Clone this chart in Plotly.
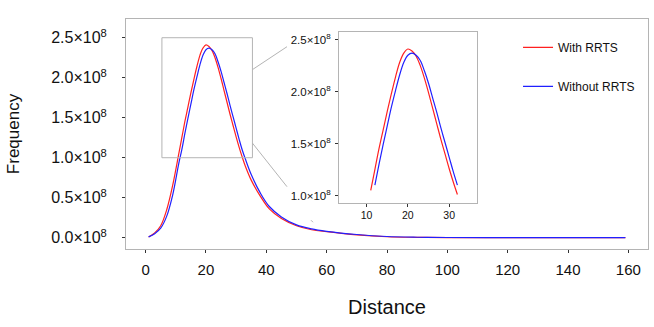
import plotly.graph_objects as go

# distance values (x) and frequencies, in units of 1e8
distance = [1, 3, 5, 7, 9, 11, 12, 13, 14, 15, 16, 17, 18, 19, 20, 21, 22, 23, 24, 25,
            26, 27, 28, 29, 30, 31, 32, 33, 35, 38, 41, 45, 50, 55, 60, 70, 80, 90,
            100, 120, 140, 159]
with_rrts = [0.01, 0.06, 0.15, 0.35, 0.66, 1.05, 1.25, 1.45, 1.63, 1.81, 1.98, 2.14,
             2.28, 2.37, 2.41, 2.39, 2.34, 2.25, 2.13, 1.99, 1.84, 1.69, 1.54, 1.40,
             1.26, 1.13, 1.01, 0.90, 0.72, 0.52, 0.36, 0.24, 0.15, 0.10, 0.075, 0.035,
             0.012, 0.005, 0.002, 0.0005, 0.0002, 0.0001]
without_rrts = [0.01, 0.05, 0.12, 0.27, 0.54, 0.93, 1.10, 1.30, 1.49, 1.67, 1.85, 2.01,
                2.16, 2.28, 2.35, 2.37, 2.35, 2.30, 2.20, 2.08, 1.94, 1.80, 1.65, 1.51,
                1.37, 1.23, 1.10, 0.99, 0.79, 0.56, 0.39, 0.26, 0.16, 0.11, 0.08, 0.04,
                0.015, 0.006, 0.003, 0.0008, 0.0003, 0.0001]

y_ticks = [0.0, 0.5, 1.0, 1.5, 2.0, 2.5]
inset_y_ticks = [1.0, 1.5, 2.0, 2.5]
x_ticks = [0, 20, 40, 60, 80, 100, 120, 140, 160]
inset_x_ticks = [10, 20, 30]

SCALE = 1e8
RED = "#ff2020"
BLUE = "#2020ff"
GREY = "#b4b4b4"
FONT = "Liberation Sans, Arial, sans-serif"


def sci(v):
    return f"{v:.1f}\u00d710<sup>8</sup>"


def window(xs, ys, lo, hi):
    pts = [(x, y * SCALE) for x, y in zip(xs, ys) if lo <= x <= hi]
    return [p[0] for p in pts], [p[1] for p in pts]


fig = go.Figure()

fig.add_trace(go.Scatter(x=distance, y=[v * SCALE for v in with_rrts], mode="lines",
                         name="With RRTS", line=dict(color=RED, width=1.2, shape="spline"),
                         legendgroup="a"))
fig.add_trace(go.Scatter(x=distance, y=[v * SCALE for v in without_rrts], mode="lines",
                         name="Without RRTS", line=dict(color=BLUE, width=1.2, shape="spline"),
                         legendgroup="b"))

# inset (zoomed peak)
rx, ry = window(distance, with_rrts, 11, 32)
bx, by = window(distance, without_rrts, 12, 32)
fig.add_trace(go.Scatter(x=rx, y=ry, mode="lines", showlegend=False, xaxis="x2", yaxis="y2",
                         line=dict(color=RED, width=1.2, shape="spline")))
fig.add_trace(go.Scatter(x=bx, y=by, mode="lines", showlegend=False, xaxis="x2", yaxis="y2",
                         line=dict(color=BLUE, width=1.2, shape="spline")))

axis_common = dict(showline=True, mirror=True, linecolor=GREY, linewidth=1,
                   showgrid=False, zeroline=False, ticks="outside", ticklen=3,
                   tickcolor="#333", tickwidth=1)

fig.update_layout(
    width=654, height=327,
    margin=dict(l=126, r=6, t=19, b=78),
    paper_bgcolor="white", plot_bgcolor="white",
    font=dict(family=FONT, color="#111"),
    xaxis=dict(axis_common, range=[-6.5, 166.5], tickvals=x_ticks,
               tickfont=dict(size=15), ticklabelstandoff=4,
               title=dict(text="Distance", font=dict(size=20), standoff=22)),
    yaxis=dict(axis_common, range=[-0.141 * SCALE, 2.734 * SCALE],
               tickvals=[v * SCALE for v in y_ticks], ticktext=[sci(v) for v in y_ticks],
               tickfont=dict(size=16), ticklabelstandoff=12,
               title=dict(text="Frequency", font=dict(size=17), standoff=27)),
    xaxis2=dict(axis_common, domain=[0.408, 0.672], anchor="y2", range=[3.3, 36.7],
                tickvals=inset_x_ticks, tickfont=dict(size=10.5)),
    yaxis2=dict(axis_common, domain=[0.201, 0.945], anchor="x2",
                range=[0.93 * SCALE, 2.577 * SCALE],
                tickvals=[v * SCALE for v in inset_y_ticks],
                ticktext=[sci(v) for v in inset_y_ticks], tickfont=dict(size=11.5),
                ticklabelstandoff=2),
    legend=dict(x=0.751, y=0.94, xanchor="left", yanchor="top", bgcolor="rgba(0,0,0,0)",
                font=dict(size=12), traceorder="grouped", tracegroupgap=20),
    shapes=[
        dict(type="rect", xref="x", yref="y", x0=5.4, x1=35.4, y0=1.0 * SCALE, y1=2.5 * SCALE,
             line=dict(color=GREY, width=1)),
        dict(type="line", xref="paper", yref="paper", x0=0.242, y0=0.7796, x1=0.3084, y1=0.8796,
             line=dict(color=GREY, width=1)),
        dict(type="line", xref="paper", yref="paper", x0=0.242, y0=0.4609, x1=0.3084, y1=0.2709,
             line=dict(color=GREY, width=1)),
        dict(type="line", xref="paper", yref="paper", x0=0.3544, y0=0.1252, x1=0.3582, y1=0.1165,
             line=dict(color=GREY, width=1)),
    ],
)

# drop the page's default body margin so the figure sits at the window origin
fig.write_html("out.html", config={"displayModeBar": False},
               post_script="document.body.style.margin='0';")
